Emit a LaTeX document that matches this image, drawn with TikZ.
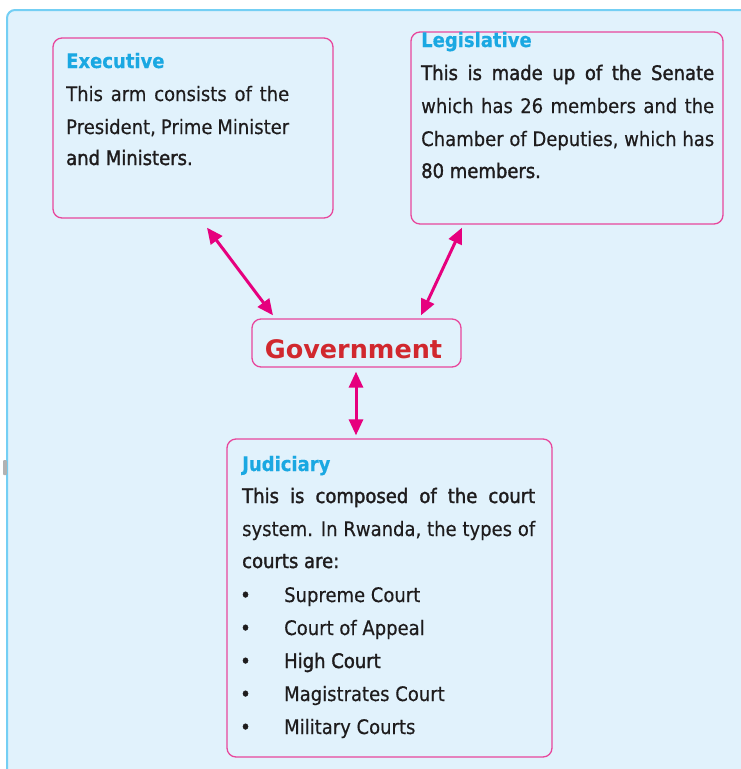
\documentclass[tikz,border=0pt]{standalone}
\usepackage{fontspec}
\setmainfont{DejaVu Sans}[FakeStretch=0.9,FakeBold=0.4]
\newfontfamily\semib{DejaVu Sans}[FakeStretch=0.9,FakeBold=1.6]
\newfontfamily\govfont{DejaVu Sans}
\usetikzlibrary{arrows.meta}
\definecolor{panelfill}{HTML}{E1F2FC}
\definecolor{panelline}{HTML}{74CFF4}
\definecolor{boxline}{HTML}{E8479C}
\definecolor{arrowcol}{HTML}{E6007E}
\definecolor{headblue}{HTML}{1AA8E2}
\definecolor{govred}{HTML}{D1282E}
\definecolor{txtcol}{HTML}{1E1C1D}
\tikzset{
  box/.style={draw=boxline, line width=1.3pt, rounded corners=9pt, inner sep=0pt},
  txt/.style={anchor=base west, inner sep=0pt, text=txtcol, font=\fontsize{20}{24}\selectfont},
  head/.style={anchor=base west, inner sep=0pt, text=headblue, font=\fontsize{20}{24}\selectfont\bfseries},
  linkarrow/.style={draw=arrowcol, line width=3pt, {Triangle[length=16pt,width=14pt]}-{Triangle[length=16pt,width=14pt]}}
}
\begin{document}
\begin{tikzpicture}[x=1pt,y=-1pt]
\useasboundingbox (0,0) rectangle (741,769);
\clip (0,0) rectangle (741,769);
\fill[white] (0,0) rectangle (741,769);
% outer panel
\draw[draw=panelline, line width=2pt, fill=panelfill, rounded corners=8pt] (7,800) -- (7,10) -- (770,10) -- (770,800) -- cycle;
\fill[gray!60, rounded corners=1pt] (3,460) rectangle (7,475);
% boxes
\node[box, minimum width=280pt, minimum height=180pt] (exec) at (193,128) {};
\node[box, minimum width=312pt, minimum height=192pt] (leg) at (567,128) {};
\node[box, minimum width=209pt, minimum height=48pt] (gov) at (356.5,343) {};
\node[box, minimum width=325pt, minimum height=318pt] (jud) at (389.5,598) {};
% executive
\node[head] (exech) at (66,68) {Executive};
\node[txt] (exec1) at (66,101) {\makebox[223pt][s]{This arm consists of the}};
\node[txt] (exec2) at (66,134) {\makebox[223pt][s]{President, Prime Minister}};
\node[txt] (exec3) at (66,165) {\semib and Ministers.};
% legislative
\node[head] (legh) at (421,47) {Legislative};
\node[txt] (leg1) at (421,80) {\makebox[293pt][s]{\semib This is made up of the Senate}};
\node[txt] (leg2) at (421,113) {\makebox[293pt][s]{which has 26 members and the}};
\node[txt] (leg3) at (421,146) {\makebox[293pt][s]{Chamber of Deputies, which has}};
\node[txt] (leg4) at (421,178) {\semib 80 members.};
% government
\node[anchor=base, inner sep=0pt, text=govred, font=\govfont\bfseries\fontsize{25.5}{30}\selectfont] (govt) at (353.5,358) {Government};
% judiciary
\node[head] (judh) at (242,471) {Judiciary};
\node[txt] (jud1) at (242,503) {\makebox[293pt][s]{\semib This is composed of the court}};
\node[txt] (jud2) at (242,536) {\makebox[293pt][s]{system. In Rwanda, the types of}};
\node[txt] (jud3) at (242,568) {\semib courts are:};
\foreach \y/\t/\n in {602/Supreme Court/a,635/Court of Appeal/b,668/{\semib High Court}/c,701/Magistrates Court/d,734/Military Courts/e}{
  \node[txt] (bul\n) at (240,\y) {\semib •};
  \node[txt] (item\n) at (284,\y) {\t};
}
% arrows
\draw[linkarrow] ([xshift=14pt,yshift=-9pt]exec.south) -- ([xshift=-83.5pt,yshift=3pt]gov.north);
\draw[linkarrow] ([xshift=-105pt,yshift=-3pt]leg.south) -- ([xshift=64.5pt,yshift=3pt]gov.north);
\draw[linkarrow] ([xshift=-0.5pt,yshift=-4pt]gov.south) -- ([xshift=-33.5pt,yshift=3pt]jud.north);
\end{tikzpicture}
\end{document}
